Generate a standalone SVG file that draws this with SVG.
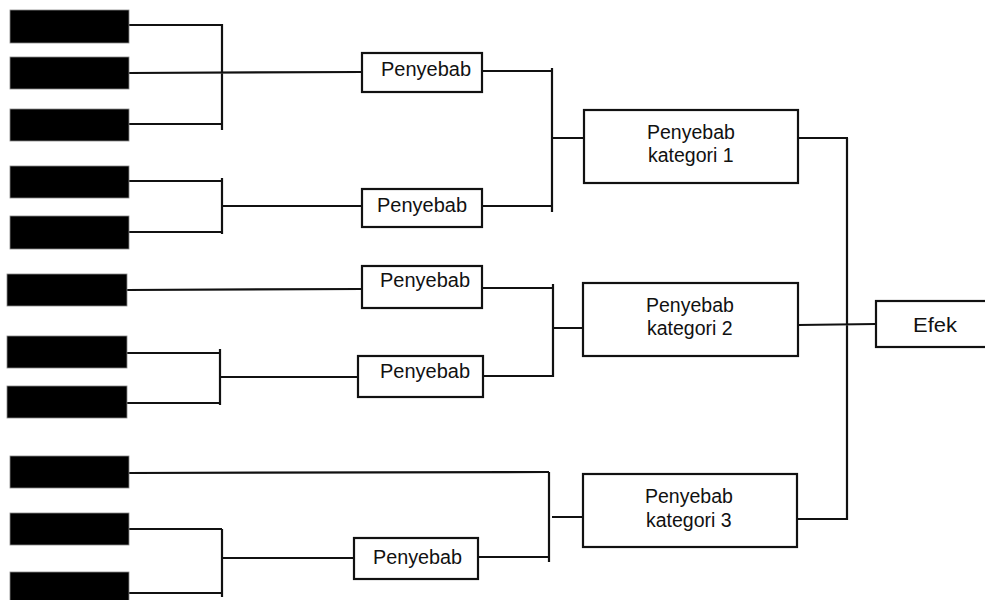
<svg xmlns="http://www.w3.org/2000/svg" width="985" height="600" viewBox="0 0 985 600">
  <style>
    .bar { fill: #000; stroke: #888; stroke-width: 0.8; }
    .box { fill: #fff; stroke: #111; stroke-width: 2.2; }
    .wire { fill: none; stroke: #111; stroke-width: 2.2; }
    .lbl { font-family: "Liberation Sans", Arial, sans-serif; font-size: 19.5px; fill: #111; }
  </style>
  <rect width="985" height="600" fill="#fff"/>

  <!-- connectors -->
  <g id="connectors" class="wire">
    <!-- group 1: three bars into first cause -->
    <path d="M129 25 H222 M129 73 L362 72 M129 124 H222 M222 24 V130"/>
    <!-- group 2: two bars into second cause -->
    <path d="M129 181 H222 M129 232 H222 M222 178 V234 M222 206 H362"/>
    <!-- causes into category 1 -->
    <path d="M482 71 H552 M482 206 H552 M552 68 V212 M552 138 H584"/>
    <!-- bar into third cause -->
    <path d="M127 290 L362 289"/>
    <!-- two bars into fourth cause -->
    <path d="M127 353 H220 M127 403 H220 M220 349 V405 M220 377 H358"/>
    <!-- causes into category 2 -->
    <path d="M482 288 H553 M483 376 H553 M553 284 V377 M553 328 H583"/>
    <!-- bars into category 3 -->
    <path d="M129 473 L549 472 M129 529 H222 M129 593 H222 M222 529 V597 M222 558 H354"/>
    <path d="M478 557 H549 M549 472 V562 M552 517 H583"/>
    <!-- categories into effect -->
    <path d="M798 138 H848 M797 519 H847 M847 138 V520 M798 325 L876 324"/>
  </g>

  <!-- unlabelled input bars -->
  <g id="bar1"><rect class="bar" x="10" y="10" width="119" height="33"/></g>
  <g id="bar2"><rect class="bar" x="10" y="57" width="119" height="32"/></g>
  <g id="bar3"><rect class="bar" x="10" y="109" width="119" height="32"/></g>
  <g id="bar4"><rect class="bar" x="10" y="166" width="119" height="32"/></g>
  <g id="bar5"><rect class="bar" x="10" y="216" width="119" height="33"/></g>
  <g id="bar6"><rect class="bar" x="7" y="274" width="120" height="32"/></g>
  <g id="bar7"><rect class="bar" x="7" y="336" width="120" height="32"/></g>
  <g id="bar8"><rect class="bar" x="7" y="386" width="120" height="32"/></g>
  <g id="bar9"><rect class="bar" x="10" y="456" width="119" height="32"/></g>
  <g id="bar10"><rect class="bar" x="10" y="513" width="119" height="32"/></g>
  <g id="bar11"><rect class="bar" x="10" y="572" width="119" height="32"/></g>

  <!-- causes -->
  <g id="cause1">
    <rect class="box" x="362" y="53" width="120" height="39"/>
    <text class="lbl" x="381" y="76" textLength="90" lengthAdjust="spacingAndGlyphs">Penyebab</text>
  </g>
  <g id="cause2">
    <rect class="box" x="362" y="189" width="120" height="38"/>
    <text class="lbl" x="377" y="212" textLength="90" lengthAdjust="spacingAndGlyphs">Penyebab</text>
  </g>
  <g id="cause3">
    <rect class="box" x="362" y="266" width="120" height="42"/>
    <text class="lbl" x="380" y="287" textLength="90" lengthAdjust="spacingAndGlyphs">Penyebab</text>
  </g>
  <g id="cause4">
    <rect class="box" x="358" y="356" width="125" height="41"/>
    <text class="lbl" x="380" y="378" textLength="90" lengthAdjust="spacingAndGlyphs">Penyebab</text>
  </g>
  <g id="cause5">
    <rect class="box" x="354" y="538" width="124" height="41"/>
    <text class="lbl" x="373" y="564" textLength="89" lengthAdjust="spacingAndGlyphs">Penyebab</text>
  </g>

  <!-- categories -->
  <g id="category1">
    <rect class="box" x="584" y="110" width="214" height="73"/>
    <text class="lbl" x="647" y="139">Penyebab</text>
    <text class="lbl" x="648" y="162">kategori 1</text>
  </g>
  <g id="category2">
    <rect class="box" x="583" y="283" width="215" height="73"/>
    <text class="lbl" x="646" y="312">Penyebab</text>
    <text class="lbl" x="647" y="335">kategori 2</text>
  </g>
  <g id="category3">
    <rect class="box" x="583" y="474" width="214" height="73"/>
    <text class="lbl" x="645" y="503">Penyebab</text>
    <text class="lbl" x="646" y="527">kategori 3</text>
  </g>

  <!-- effect -->
  <g id="effect">
    <rect class="box" x="876" y="301" width="112" height="46"/>
    <text class="lbl" x="913" y="332" textLength="44" lengthAdjust="spacingAndGlyphs">Efek</text>
  </g>
</svg>
